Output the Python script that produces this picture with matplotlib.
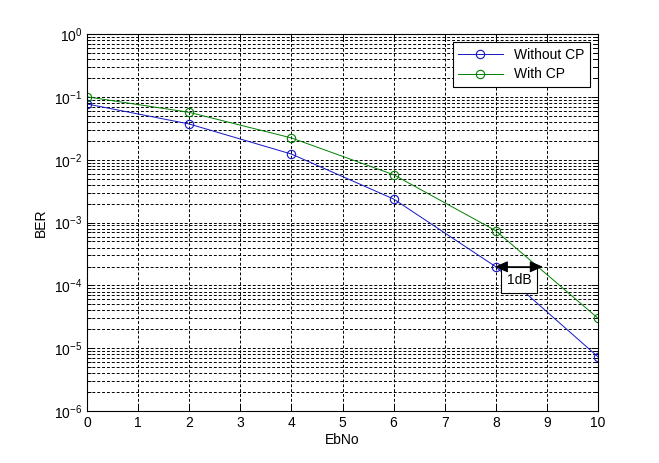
import matplotlib

matplotlib.use("Agg")
import matplotlib.pyplot as plt  # noqa: E402
from matplotlib.ticker import LogLocator, NullFormatter  # noqa: E402

# data
ebno = [0, 2, 4, 6, 8, 10]
ber_no_cp = [0.077, 0.037, 0.0123, 0.00237, 1.98e-4, 7.3e-6]
ber_cp = [0.100, 0.0567, 0.0222, 0.00577, 7.4e-4, 3.0e-5]
series_labels = ["Without CP", "With CP"]
x_ticks = list(range(0, 11))
y_decades = [1e-6, 1e-5, 1e-4, 1e-3, 1e-2, 1e-1, 1e0]
gap_label = "1dB"
gap_start, gap_end = 7.98, 8.92

C_BLUE = (0.08, 0.08, 0.78)
C_GREEN = (0, 0.5, 0)

plt.rcParams["font.family"] = ["Liberation Sans", "DejaVu Sans"]
plt.rcParams["mathtext.fontset"] = "custom"
plt.rcParams["mathtext.rm"] = "Liberation Sans"

fig = plt.figure(figsize=(6.59, 4.63), dpi=100)
ax = fig.add_axes([0.132, 0.112, 0.7755, 0.8146])

ax.semilogy(ebno, ber_no_cp, "-o", color=C_BLUE, lw=0.7, ms=6,
            mfc="none", mew=0.8, label=series_labels[0])
ax.semilogy(ebno, ber_cp, "-o", color=C_GREEN, lw=0.7, ms=6,
            mfc="none", mew=0.8, label=series_labels[1])

ax.set_xlim(0, 10)
ax.set_ylim(1e-6, 1)
ax.set_xticks(x_ticks)
ax.set_yticks(y_decades)
ax.yaxis.set_minor_locator(LogLocator(base=10, subs=range(2, 10), numticks=20))
ax.yaxis.set_minor_formatter(NullFormatter())

grid_ls = (0, (3, 2))
ax.grid(True, which="major", color="black", ls=grid_ls, lw=0.7)
ax.grid(True, which="minor", axis="y", color="black", ls=grid_ls, lw=0.7)

ax.tick_params(which="both", direction="in", top=True, right=True,
               labelsize=10, width=0.7)
ax.tick_params(which="major", length=5)
ax.tick_params(which="minor", length=3)
for s in ax.spines.values():
    s.set_linewidth(0.8)

ax.set_xlabel("EbNo", fontsize=10, labelpad=2)
ax.set_ylabel("BER", fontsize=10, labelpad=4)

leg = ax.legend(loc="upper right", fontsize=10, fancybox=False,
                framealpha=1, edgecolor="black", borderaxespad=0.6,
                handlelength=3.2, borderpad=0.4, labelspacing=0.4)
leg.get_frame().set_linewidth(0.8)

# 1 dB gap annotation: boxed label under a double arrow
y_gap = ber_no_cp[4]
ax.text(8.45, y_gap * 0.62, gap_label, fontsize=10, ha="center", va="center",
        bbox=dict(boxstyle="square,pad=0.42", fc="white", ec="black", lw=0.8))
ax.annotate("", xy=(gap_end, y_gap), xytext=(gap_start, y_gap),
            arrowprops=dict(arrowstyle="<|-|>,head_length=0.8,head_width=0.35",
                            color="black", lw=0.8, shrinkA=0, shrinkB=0))

fig.savefig("out.png", dpi=100)
